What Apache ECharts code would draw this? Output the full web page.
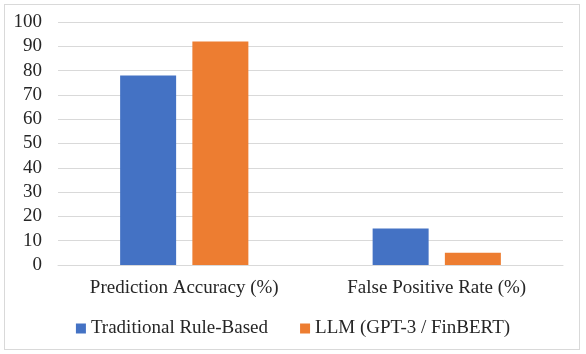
<!DOCTYPE html>
<html>
<head>
<meta charset="utf-8">
<script src="https://cdn.jsdelivr.net/npm/echarts@6/dist/echarts.min.js"></script>
<style>
  html, body { margin: 0; padding: 0; background: #fff; }
  #frame { position: absolute; left: 4px; top: 4px; width: 576px; height: 346px; border: 1px solid #d9d9d9; box-sizing: border-box; }
  #chart { width: 586px; height: 354px; }
</style>
</head>
<body>
<div id="frame"></div>
<div id="chart"></div>
<script>
const categories = ['Prediction Accuracy (%)', 'False Positive Rate (%)'];
const seriesNames = ['Traditional Rule-Based', 'LLM (GPT-3 / FinBERT)'];
const traditional = [78, 15];
const llm = [92, 5];

const font = '"Liberation Serif", serif';
const chart = echarts.init(document.getElementById('chart'));

const option = {
  animation: false,
  textStyle: { fontFamily: font },
  grid: { left: 58, right: 23, top: 22, bottom: 89, containLabel: false },
  legend: {
    data: seriesNames,
    top: 314,
    left: 'center',
    itemWidth: 10,
    itemHeight: 10,
    itemGap: 32,
    icon: 'rect',
    textStyle: { fontFamily: font, fontSize: 19, color: '#262626' }
  },
  xAxis: {
    type: 'category',
    data: categories,
    axisLine: { lineStyle: { color: '#d9d9d9' } },
    axisTick: { show: false },
    axisLabel: { fontFamily: font, fontSize: 19, color: '#262626', margin: 14 }
  },
  yAxis: {
    type: 'value',
    min: 0,
    max: 100,
    interval: 10,
    axisLine: { show: false },
    axisTick: { show: false },
    splitLine: { lineStyle: { color: '#d9d9d9' } },
    axisLabel: { fontFamily: font, fontSize: 19, color: '#262626', margin: 16 }
  },
  series: [
    {
      name: seriesNames[0],
      type: 'bar',
      data: traditional,
      barWidth: 56,
      barGap: '29%',
      itemStyle: { color: '#4472C4' }
    },
    {
      name: seriesNames[1],
      type: 'bar',
      data: llm,
      barWidth: 56,
      itemStyle: { color: '#ED7D31' }
    }
  ]
};

chart.setOption(option);
</script>
</body>
</html>
